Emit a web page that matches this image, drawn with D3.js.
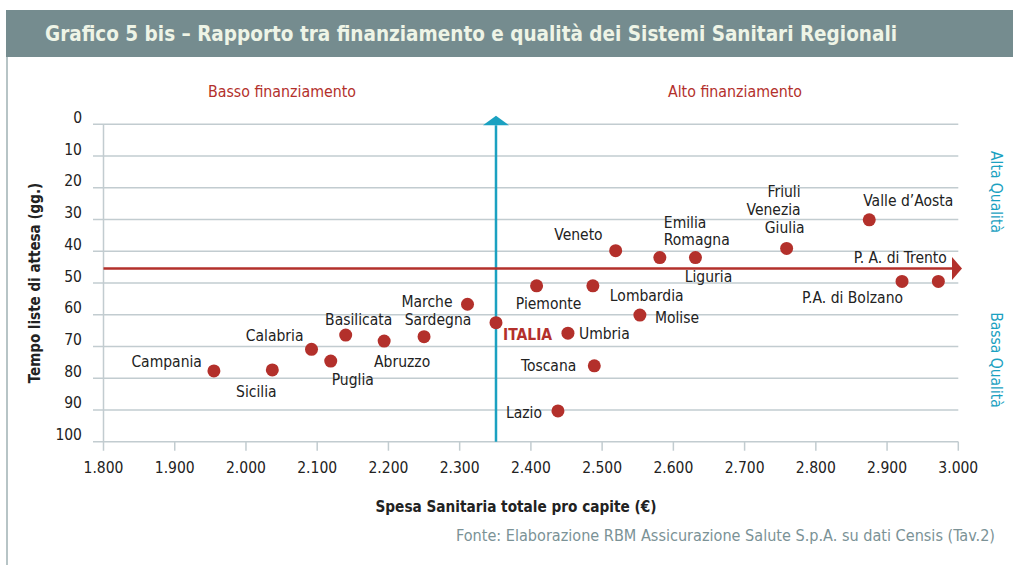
<!DOCTYPE html>
<html>
<head>
<meta charset="utf-8">
<script src="https://cdn.jsdelivr.net/npm/d3@7"></script>
<style>
  html, body { margin: 0; padding: 0; background: #fff; }
  svg { display: block; }
  text { font-family: "DejaVu Sans Condensed", "DejaVu Sans", sans-serif; }
</style>
</head>
<body>
<svg id="chart" width="1013" height="565"></svg>
<script>
// ---- Data ----
const regions = ["Campania","Sicilia","Calabria","Puglia","Basilicata","Abruzzo","Sardegna","Marche",
  "ITALIA","Piemonte","Lombardia","Veneto","Emilia Romagna","Liguria","Molise","Umbria","Toscana","Lazio",
  "Friuli Venezia Giulia","Valle d’Aosta","P.A. di Bolzano","P. A. di Trento"];
const spesa  = [1955, 2037, 2092, 2119, 2140, 2194, 2250, 2311,
  2351, 2408, 2487, 2519, 2581, 2631, 2553, 2452, 2489, 2438,
  2759, 2875, 2921, 2972];
const attesa = [77.7, 77.4, 70.9, 74.6, 66.4, 68.3, 66.9, 56.7,
  62.5, 50.9, 50.9, 39.8, 42.0, 42.0, 60.1, 65.8, 76.1, 90.3,
  39.1, 30.1, 49.5, 49.5];
const italiaSpesa = 2351;
const italiaAttesa = 45.4;
const xTicks = [1800,1900,2000,2100,2200,2300,2400,2500,2600,2700,2800,2900,3000];
const yTicks = [0,10,20,30,40,50,60,70,80,90,100];

// ---- Label layout (offsets from the point) ----
const labelLayout = {
  "Campania": {anchor:"end", dx:-12, dy:-4},
  "Sicilia": {anchor:"middle", dx:-16, dy:27},
  "Calabria": {anchor:"end", dx:-8, dy:-8},
  "Puglia": {anchor:"start", dx:1, dy:24},
  "Basilicata": {anchor:"middle", dx:13, dy:-10},
  "Abruzzo": {anchor:"middle", dx:18, dy:26},
  "Sardegna": {anchor:"middle", dx:14, dy:-12},
  "Marche": {anchor:"end", dx:-15, dy:3},
  "ITALIA": {anchor:"start", dx:7, dy:17},
  "Piemonte": {anchor:"middle", dx:12, dy:23},
  "Lombardia": {anchor:"start", dx:17, dy:15},
  "Veneto": {anchor:"end", dx:-13, dy:-11},
  "Emilia Romagna": {anchor:"start", dx:4, dy:-30, lines:["Emilia","Romagna"], lh:17.7},
  "Liguria": {anchor:"middle", dx:13, dy:24},
  "Molise": {anchor:"start", dx:15, dy:8},
  "Umbria": {anchor:"start", dx:11, dy:6},
  "Toscana": {anchor:"end", dx:-18, dy:5},
  "Lazio": {anchor:"end", dx:-16, dy:7},
  "Friuli Venezia Giulia": {anchor:"end", dx:14, dy:-51.6, lines:["Friuli","Venezia","Giulia"], lh:18, ldx:[0,0,4]},
  "Valle d’Aosta": {anchor:"start", dx:-6, dy:-14},
  "P.A. di Bolzano": {anchor:"end", dx:1, dy:21.5},
  "P. A. di Trento": {anchor:"end", dx:8.5, dy:-18}
};

const RED = "#b3302b", BLUE = "#1ba1c1", GRID = "#c2ccd0", TXT = "#222";

const svg = d3.select("#chart");
const x = d3.scaleLinear().domain([1800, 3000]).range([103.5, 958.3]);
const y = d3.scaleLinear().domain([0, 100]).range([124.3, 441.7]);

// Title bar
svg.append("rect").attr("x", 6).attr("y", 10).attr("width", 1007).attr("height", 47).attr("fill", "#758c8f");
svg.append("text").attr("x", 45).attr("y", 41).attr("fill", "#eef4e6")
  .attr("font-size", 20.5).attr("font-weight", "bold")
  .text("Grafico 5 bis – Rapporto tra finanziamento e qualità dei Sistemi Sanitari Regionali");
// left border line
svg.append("line").attr("x1", 7).attr("x2", 7).attr("y1", 57).attr("y2", 565)
  .attr("stroke", "#9fb0b3").attr("stroke-width", 1.5);

// Gridlines
svg.append("g").selectAll("line").data(yTicks).join("line")
  .attr("x1", 93).attr("x2", x(3000)).attr("y1", d => y(d)).attr("y2", d => y(d))
  .attr("stroke", GRID).attr("stroke-width", 1.5);

// Y tick labels
svg.append("g").selectAll("text").data(yTicks).join("text")
  .attr("x", 82).attr("y", d => y(d) - 1.5).attr("text-anchor", "end")
  .attr("font-size", 15.5).attr("fill", TXT).text(d => d);

// Y axis vertical line
svg.append("line").attr("x1", x(1800)).attr("x2", x(1800)).attr("y1", y(0)).attr("y2", y(100) + 9)
  .attr("stroke", GRID).attr("stroke-width", 1.5);

// X axis ticks
const fmt = d => d3.format(",")(d).replace(",", ".");
svg.append("g").selectAll("line").data(xTicks.slice(1)).join("line")
  .attr("x1", d => x(d)).attr("x2", d => x(d)).attr("y1", y(100)).attr("y2", y(100) + 9)
  .attr("stroke", GRID).attr("stroke-width", 1.5);
svg.append("g").selectAll("text").data(xTicks).join("text")
  .attr("x", d => x(d)).attr("y", 473).attr("text-anchor", "middle")
  .attr("font-size", 15.5).attr("fill", TXT).text(fmt);

// Axis titles
svg.append("text").attr("x", 516).attr("y", 512).attr("text-anchor", "middle")
  .attr("font-size", 15.2).attr("font-weight", "bold").attr("fill", TXT)
  .text("Spesa Sanitaria totale pro capite (€)");
svg.append("text").attr("transform", "translate(35,283) rotate(-90)")
  .attr("text-anchor", "middle").attr("dominant-baseline", "central")
  .attr("font-size", 15).attr("font-weight", "bold").attr("fill", TXT)
  .text("Tempo liste di attesa (gg.)");

// Section labels
svg.append("text").attr("x", 282).attr("y", 97).attr("text-anchor", "middle")
  .attr("font-size", 15.8).attr("fill", RED).text("Basso finanziamento");
svg.append("text").attr("x", 735).attr("y", 97).attr("text-anchor", "middle")
  .attr("font-size", 15.8).attr("fill", RED).text("Alto finanziamento");

// Quality labels
svg.append("text").attr("transform", "translate(996,192) rotate(90)")
  .attr("text-anchor", "middle").attr("dominant-baseline", "central")
  .attr("font-size", 15.5).attr("fill", BLUE).text("Alta Qualità");
svg.append("text").attr("transform", "translate(996,360) rotate(90)")
  .attr("text-anchor", "middle").attr("dominant-baseline", "central")
  .attr("font-size", 15.5).attr("fill", BLUE).text("Bassa Qualità");

// Vertical blue line with arrow (Italia spending)
const xi = x(italiaSpesa);
svg.append("line").attr("x1", xi).attr("x2", xi).attr("y1", y(100)).attr("y2", y(0) + 1)
  .attr("stroke", BLUE).attr("stroke-width", 2.5);
svg.append("path").attr("d", `M${xi - 13},${y(0) + 1}L${xi},${y(0) - 8.6}L${xi + 13},${y(0) + 1}Z`)
  .attr("fill", BLUE);

// Horizontal red line with arrow (Italia waiting)
const yi = y(italiaAttesa);
svg.append("line").attr("x1", x(1800)).attr("x2", 954).attr("y1", yi).attr("y2", yi)
  .attr("stroke", RED).attr("stroke-width", 2.5);
svg.append("path").attr("d", `M952,${yi - 11.5}L962,${yi}L952,${yi + 11.5}Z`).attr("fill", RED);

// Points
const pts = regions.map((r, i) => ({name: r, sx: spesa[i], wy: attesa[i]}));
svg.append("g").selectAll("circle").data(pts).join("circle")
  .attr("cx", d => x(d.sx)).attr("cy", d => y(d.wy)).attr("r", 6.5).attr("fill", RED);

// Labels
const lg = svg.append("g");
pts.forEach(d => {
  const L = labelLayout[d.name];
  const t = lg.append("text")
    .attr("x", x(d.sx) + L.dx).attr("y", y(d.wy) + L.dy)
    .attr("text-anchor", L.anchor).attr("font-size", 15.5)
    .attr("fill", d.name === "ITALIA" ? RED : TXT)
    .attr("font-weight", d.name === "ITALIA" ? "bold" : "normal");
  if (L.lines) {
    L.lines.forEach((ln, k) => {
      t.append("tspan").attr("x", x(d.sx) + L.dx + (L.ldx ? L.ldx[k] : 0))
        .attr("dy", k === 0 ? 0 : L.lh).text(ln);
    });
  } else {
    t.text(d.name);
  }
});

// Footer
svg.append("text").attr("x", 995).attr("y", 541).attr("text-anchor", "end")
  .attr("font-size", 16.1).attr("fill", "#7b9296")
  .text("Fonte: Elaborazione RBM Assicurazione Salute S.p.A. su dati Censis (Tav.2)");
</script>
</body>
</html>
